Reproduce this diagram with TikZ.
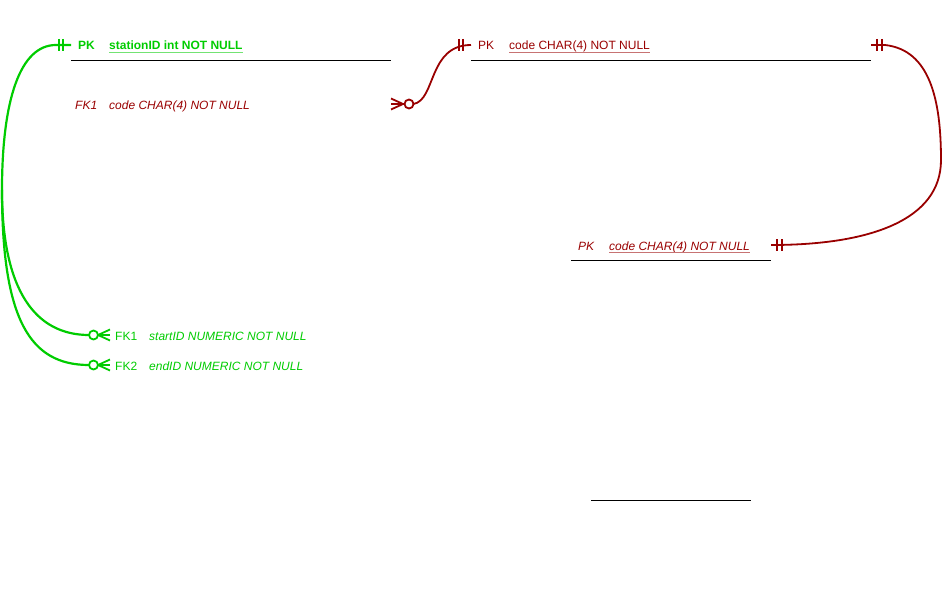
\documentclass[tikz,border=0pt]{standalone}
\usepackage{fontspec}
\setmainfont{Liberation Sans}
\definecolor{erGreen}{RGB}{0,204,0}
\definecolor{erRed}{RGB}{153,0,0}
\begin{document}
\begin{tikzpicture}[x=1pt,y=-1pt,
  every node/.style={inner sep=0pt, anchor=base west, font=\fontsize{12}{14}\selectfont},
  gtxt/.style={text=erGreen},
  rtxt/.style={text=erRed},
  hdr/.style={draw=black, line width=0.9pt},
  ulG/.style={draw=erGreen!55, line width=0.9pt},
  ulR/.style={draw=erRed!55, line width=0.9pt},
  relG/.style={draw=erGreen, line width=2.2pt},
  relR/.style={draw=erRed, line width=1.8pt},
  markG/.style={draw=erGreen, line width=1.8pt},
  markR/.style={draw=erRed, line width=1.8pt}
]
\useasboundingbox (0,0) rectangle (943,602);

% ---- station table ----
\node[gtxt, font=\fontsize{12}{14}\selectfont\bfseries] (stPK) at (78,50) {PK};
\node[gtxt, font=\fontsize{12}{14}\selectfont\bfseries] (stID) at (109,50) {stationID int NOT NULL};
\draw[ulG] ([yshift=-2pt]stID.base west) -- ([yshift=-2pt]stID.base east);
\draw[hdr] (71,60) -- (391,60);
\node[rtxt, font=\fontsize{12}{14}\selectfont\itshape] (stFK) at (75,110) {FK1};
\node[rtxt, font=\fontsize{12}{14}\selectfont\itshape] (stCode) at (109,110) {code CHAR(4) NOT NULL};
\coordinate (stL) at (71,45);
\coordinate (stR) at (391,104);

% ---- code table (top right) ----
\node[rtxt] (cdPK) at (478,50) {PK};
\node[rtxt] (cdCode) at (509,50) {code CHAR(4) NOT NULL};
\draw[ulR] ([yshift=-2pt]cdCode.base west) -- ([yshift=-2pt]cdCode.base east);
\draw[hdr] (471,60) -- (871,60);
\coordinate (cdL) at (471,45);
\coordinate (cdR) at (871,45);

% ---- code table (middle) ----
\node[rtxt, font=\fontsize{12}{14}\selectfont\itshape] (c2PK) at (578,250) {PK};
\node[rtxt, font=\fontsize{12}{14}\selectfont\itshape] (c2Code) at (609,250) {code CHAR(4) NOT NULL};
\draw[ulR] ([yshift=-2pt]c2Code.base west) -- ([yshift=-2pt]c2Code.base east);
\draw[hdr] (571,260) -- (771,260);
\coordinate (c2R) at (771,245);

% ---- trip table ----
\node[gtxt] (trFK1) at (115,340) {FK1};
\node[gtxt, font=\fontsize{12}{14}\selectfont\itshape] (trStart) at (149,340) {startID NUMERIC NOT NULL};
\node[gtxt] (trFK2) at (115,370) {FK2};
\node[gtxt, font=\fontsize{12}{14}\selectfont\itshape] (trEnd) at (149,370) {endID NUMERIC NOT NULL};
\coordinate (trA) at (110,335);
\coordinate (trB) at (110,365);

% ---- empty table ----
\draw[hdr] (591,500) -- (751,500);

% ---- relationship: station -> trip (start / end), shared trunk then two branches ----
\coordinate (gSplit) at (2,190);
\draw[relG] (stL) -- (56,45) .. controls (20,45) and (2,100) .. (gSplit);
\draw[relG] (gSplit) .. controls (2,290) and (35,335) .. ([xshift=-21pt]trA);
\draw[relG] (gSplit) .. controls (2,320) and (30,365) .. ([xshift=-21pt]trB);
\draw[markG] (59,39) -- (59,51) (63,39) -- (63,51);
\foreach \c in {trA,trB}{
  \draw[markG] ([xshift=-16.5pt]\c) circle (4.5pt);
  \draw[markG] ([xshift=-12pt]\c) -- (\c);
  \draw[markG] ([xshift=-12pt]\c) -- ([yshift=-5.5pt]\c);
  \draw[markG] ([xshift=-12pt]\c) -- ([yshift=5.5pt]\c);
}

% ---- relationship: code -> station ----
\draw[markR] (stR) -- (404.5,104);
\draw[markR] (391,98.5) -- (403,104) -- (391,109.5);
\draw[markR] (409,104) circle (4.5pt);
\draw[relR] (413.5,104) .. controls (436,100) and (428,45) .. (cdL);
\draw[markR] (459,39) -- (459,51) (463,39) -- (463,51);

% ---- relationship: code -> code ----
\draw[relR] (cdR) -- (885,45) .. controls (930,50) and (941,100) .. (941,160)
  .. controls (941,220) and (870,245) .. (c2R);
\draw[markR] (877,39) -- (877,51) (882,39) -- (882,51);
\draw[markR] (777,239) -- (777,251) (782,239) -- (782,251);
\end{tikzpicture}
\end{document}
